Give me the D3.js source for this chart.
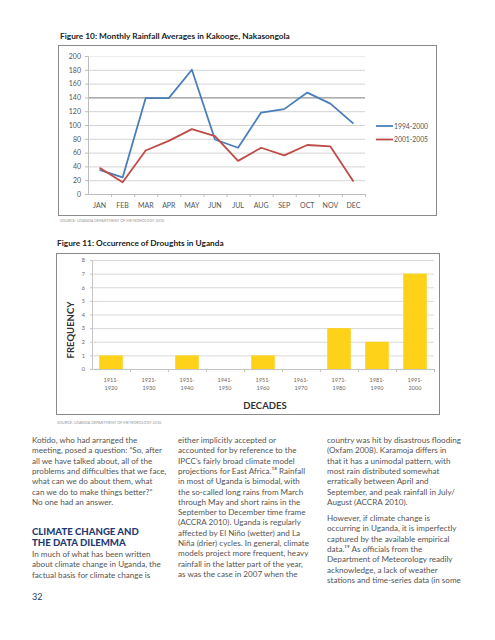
<!DOCTYPE html>
<html><head><meta charset="utf-8">
<script src="https://cdn.jsdelivr.net/npm/d3@7"></script>
<style>
html,body{margin:0;padding:0;background:#fff;}
svg{display:block;}
</style></head>
<body>
<script>
// ---- Data ----
const months = ["JAN","FEB","MAR","APR","MAY","JUN","JUL","AUG","SEP","OCT","NOV","DEC"];
const rain1994_2000 = [35,24,139,139,180,79,67,118,123,147,131,102];
const rain2001_2005 = [38,17,63,77,94,84,48,67,56,71,69,18];
const rainTicks = [0,20,40,60,80,100,120,140,160,180,200];
const seriesNames = ["1994-2000","2001-2005"];

const decades = ["1911-1920","1921-1930","1931-1940","1941-1950","1951-1960","1961-1970","1971-1980","1981-1990","1991-2000"];
const droughts = [1,0,1,0,1,0,3,2,7];
const freqTicks = [0,1,2,3,4,5,6,7,8];

const col1 = ["Kotido, who had arranged the","meeting, posed a question: \u201CSo, after","all we have talked about, all of the","problems and difficulties that we face,","what can we do about them, what","can we do to make things better?\u201D","No one had an answer."];
const col1b = ["In much of what has been written","about climate change in Uganda, the","factual basis for climate change is"];
const col2 = ["either implicitly accepted or","accounted for by reference to the","IPCC\u2019s fairly broad climate model","projections for East Africa.\u00B9\u2078 Rainfall","in most of Uganda is bimodal, with","the so-called long rains from March","through May and short rains in the","September to December time frame","(ACCRA 2010). Uganda is regularly","affected by El Ni\u00F1o (wetter) and La","Ni\u00F1a (drier) cycles. In general, climate","models project more frequent, heavy","rainfall in the latter part of the year,","as was the case in 2007 when the"];
const col3 = ["country was hit by disastrous flooding","(Oxfam 2008). Karamoja differs in","that it has a unimodal pattern, with","most rain distributed somewhat","erratically between April and","September, and peak rainfall in July/","August (ACCRA 2010)."];
const col3b = ["However, if climate change is","occurring in Uganda, it is imperfectly","captured by the available empirical","data.\u00B9\u2079 As officials from the","Department of Meteorology readily","acknowledge, a lack of weather","stations and time-series data (in some"];

const W = 495, H = 640;
const svg = d3.select("body").append("svg").attr("width", W).attr("height", H);
const FONT = "Lato, 'Open Sans', sans-serif";

// ---- Figure 10 ----
svg.append("text").attr("x",60).attr("y",39).attr("font-family",FONT).attr("font-weight","bold")
  .attr("font-size",8.3).attr("fill","#222").text("Figure 10: Monthly Rainfall Averages in Kakooge, Nakasongola");
svg.append("rect").attr("x",58.5).attr("y",45.5).attr("width",378).attr("height",170)
  .attr("fill","#fff").attr("stroke","#8a8a8a").attr("stroke-width",1);

const x1 = d3.scaleBand().domain(months).range([88,365]);
const y1 = d3.scaleLinear().domain([0,200]).range([194,56]);

const g1 = svg.append("g");
g1.selectAll("line.grid").data(rainTicks.filter(t=>t>0)).join("line")
  .attr("x1",88).attr("x2",365).attr("y1",d=>y1(d)+0.5).attr("y2",d=>y1(d)+0.5)
  .attr("stroke",d=>d===140?"#7a7a7a":(d===200?"#ececec":"#d4d4d4")).attr("stroke-width",1);
g1.append("g").attr("transform","translate(88,0)")
  .call(d3.axisLeft(y1).tickValues(rainTicks).tickSize(3).tickPadding(4))
  .call(g=>{g.select(".domain").attr("stroke","#bdbdbd");
    g.selectAll(".tick line").attr("stroke","#bdbdbd");
    g.selectAll("text").attr("font-family",FONT).attr("font-size",7).attr("fill","#555");});
g1.append("g").attr("transform","translate(0,194)")
  .call(d3.axisBottom(x1).tickSize(0).tickPadding(9))
  .call(g=>{g.select(".domain").attr("stroke","#bdbdbd");
    g.selectAll("text").attr("font-family",FONT).attr("font-size",7).attr("fill","#555");});
g1.selectAll("line.xt").data(months).join("line")
  .attr("x1",d=>x1(d)+x1.bandwidth()+0.5).attr("x2",d=>x1(d)+x1.bandwidth()+0.5)
  .attr("y1",194).attr("y2",197).attr("stroke","#bdbdbd");

const line1 = d3.line().x((d,i)=>x1(months[i])+x1.bandwidth()/2).y(d=>y1(d));
const seriesColors = ["#4a7ebb","#be4b48"];
[rain1994_2000, rain2001_2005].forEach((s,k)=>{
  g1.append("path").attr("d",line1(s)).attr("fill","none").attr("stroke",seriesColors[k])
    .attr("stroke-width",1.8).attr("stroke-linejoin","round");
});
seriesNames.forEach((n,k)=>{
  const ly = 126 + k*13.5;
  g1.append("line").attr("x1",376).attr("x2",393).attr("y1",ly).attr("y2",ly)
    .attr("stroke",seriesColors[k]).attr("stroke-width",1.8);
  g1.append("text").attr("x",394).attr("y",ly+2.5).attr("font-family",FONT).attr("font-size",6.8)
    .attr("fill","#555").text(n);
});
svg.append("text").attr("x",60).attr("y",222).attr("font-family",FONT).attr("font-size",3.8)
  .attr("fill","#999").text("SOURCE: UGANDA DEPARTMENT OF METEOROLOGY 2010");

// ---- Figure 11 ----
svg.append("text").attr("x",57).attr("y",246).attr("font-family",FONT).attr("font-weight","bold")
  .attr("font-size",8.3).attr("fill","#222").text("Figure 11:  Occurrence of Droughts in Uganda");
svg.append("rect").attr("x",56.5).attr("y",253.5).attr("width",383).attr("height",161)
  .attr("fill","#fff").attr("stroke","#8a8a8a").attr("stroke-width",1);

const x2 = d3.scaleBand().domain(decades).range([92,434]).paddingInner(0.38).paddingOuter(0.19);
const x2b = d3.scaleBand().domain(decades).range([92,434]);
const y2 = d3.scaleLinear().domain([0,8]).range([369,260]);
const g2 = svg.append("g");
g2.selectAll("line.grid").data(freqTicks.filter(t=>t>0)).join("line")
  .attr("x1",92).attr("x2",434).attr("y1",d=>y2(d)+0.5).attr("y2",d=>y2(d)+0.5)
  .attr("stroke","#d9d9d9");
g2.append("g").attr("transform","translate(92,0)")
  .call(d3.axisLeft(y2).tickValues(freqTicks).tickSize(2).tickPadding(5))
  .call(g=>{g.select(".domain").attr("stroke","#c4c4c4");
    g.selectAll(".tick line").attr("stroke","#c4c4c4");
    g.selectAll("text").attr("font-family",FONT).attr("font-size",5.5).attr("fill","#666");});
g2.selectAll("rect.bar").data(droughts).join("rect")
  .attr("x",(d,i)=>x2(decades[i])).attr("width",x2.bandwidth())
  .attr("y",d=>y2(d)).attr("height",d=>y2(0)-y2(d)).attr("fill","#ffd21a");
g2.append("line").attr("x1",92).attr("x2",434).attr("y1",369.5).attr("y2",369.5).attr("stroke","#c4c4c4");
g2.selectAll("line.xt").data(decades).join("line")
  .attr("x1",d=>x2b(d)+x2b.bandwidth()+0.5).attr("x2",d=>x2b(d)+x2b.bandwidth()+0.5)
  .attr("y1",369).attr("y2",372).attr("stroke","#c4c4c4");
const lbl = g2.selectAll("text.dl").data(decades).join("text")
  .attr("font-family",FONT).attr("font-size",5.5).attr("fill","#666").attr("text-anchor","middle");
lbl.append("tspan").attr("x",d=>x2b(d)+x2b.bandwidth()/2).attr("y",382).text(d=>d.split("-")[0]+"-");
lbl.append("tspan").attr("x",d=>x2b(d)+x2b.bandwidth()/2).attr("y",390).text(d=>d.split("-")[1]);
svg.append("text").attr("transform","translate(74,330) rotate(-90)").attr("text-anchor","middle")
  .attr("font-family",FONT).attr("font-weight","bold").attr("font-size",9.5).attr("fill","#333").text("FREQUENCY");
svg.append("text").attr("x",265).attr("y",409).attr("text-anchor","middle")
  .attr("font-family",FONT).attr("font-weight","bold").attr("font-size",9.5).attr("fill","#333").text("DECADES");
svg.append("text").attr("x",57).attr("y",423.5).attr("font-family",FONT).attr("font-size",3.8)
  .attr("fill","#999").text("SOURCE: UGANDA DEPARTMENT OF METEOROLOGY 2010.");

// ---- Body text ----
function block(lines, x, y0, lh){
  const t = svg.append("text").attr("font-family",FONT).attr("font-size",8.1).attr("fill","#555");
  lines.forEach((l,i)=>t.append("tspan").attr("x",x).attr("y",y0+i*lh).text(l));
}
const LH = 10.3;
block(col1, 32, 443, LH);
svg.append("text").attr("font-family",FONT).attr("font-weight","900").attr("font-size",9.6)
  .attr("fill","#1f3b73").attr("x",32).attr("y",535).text("CLIMATE CHANGE AND");
svg.append("text").attr("font-family",FONT).attr("font-weight","900").attr("font-size",9.6)
  .attr("fill","#1f3b73").attr("x",32).attr("y",546).text("THE DATA DILEMMA");
block(col1b, 32, 557, LH);
block(col2, 178, 443, LH);
block(col3, 327, 443, LH);
block(col3b, 327, 521, LH);
svg.append("text").attr("font-family",FONT).attr("font-size",9).attr("fill","#1f3b73")
  .attr("x",32).attr("y",600).text("32");
</script>
</body></html>
